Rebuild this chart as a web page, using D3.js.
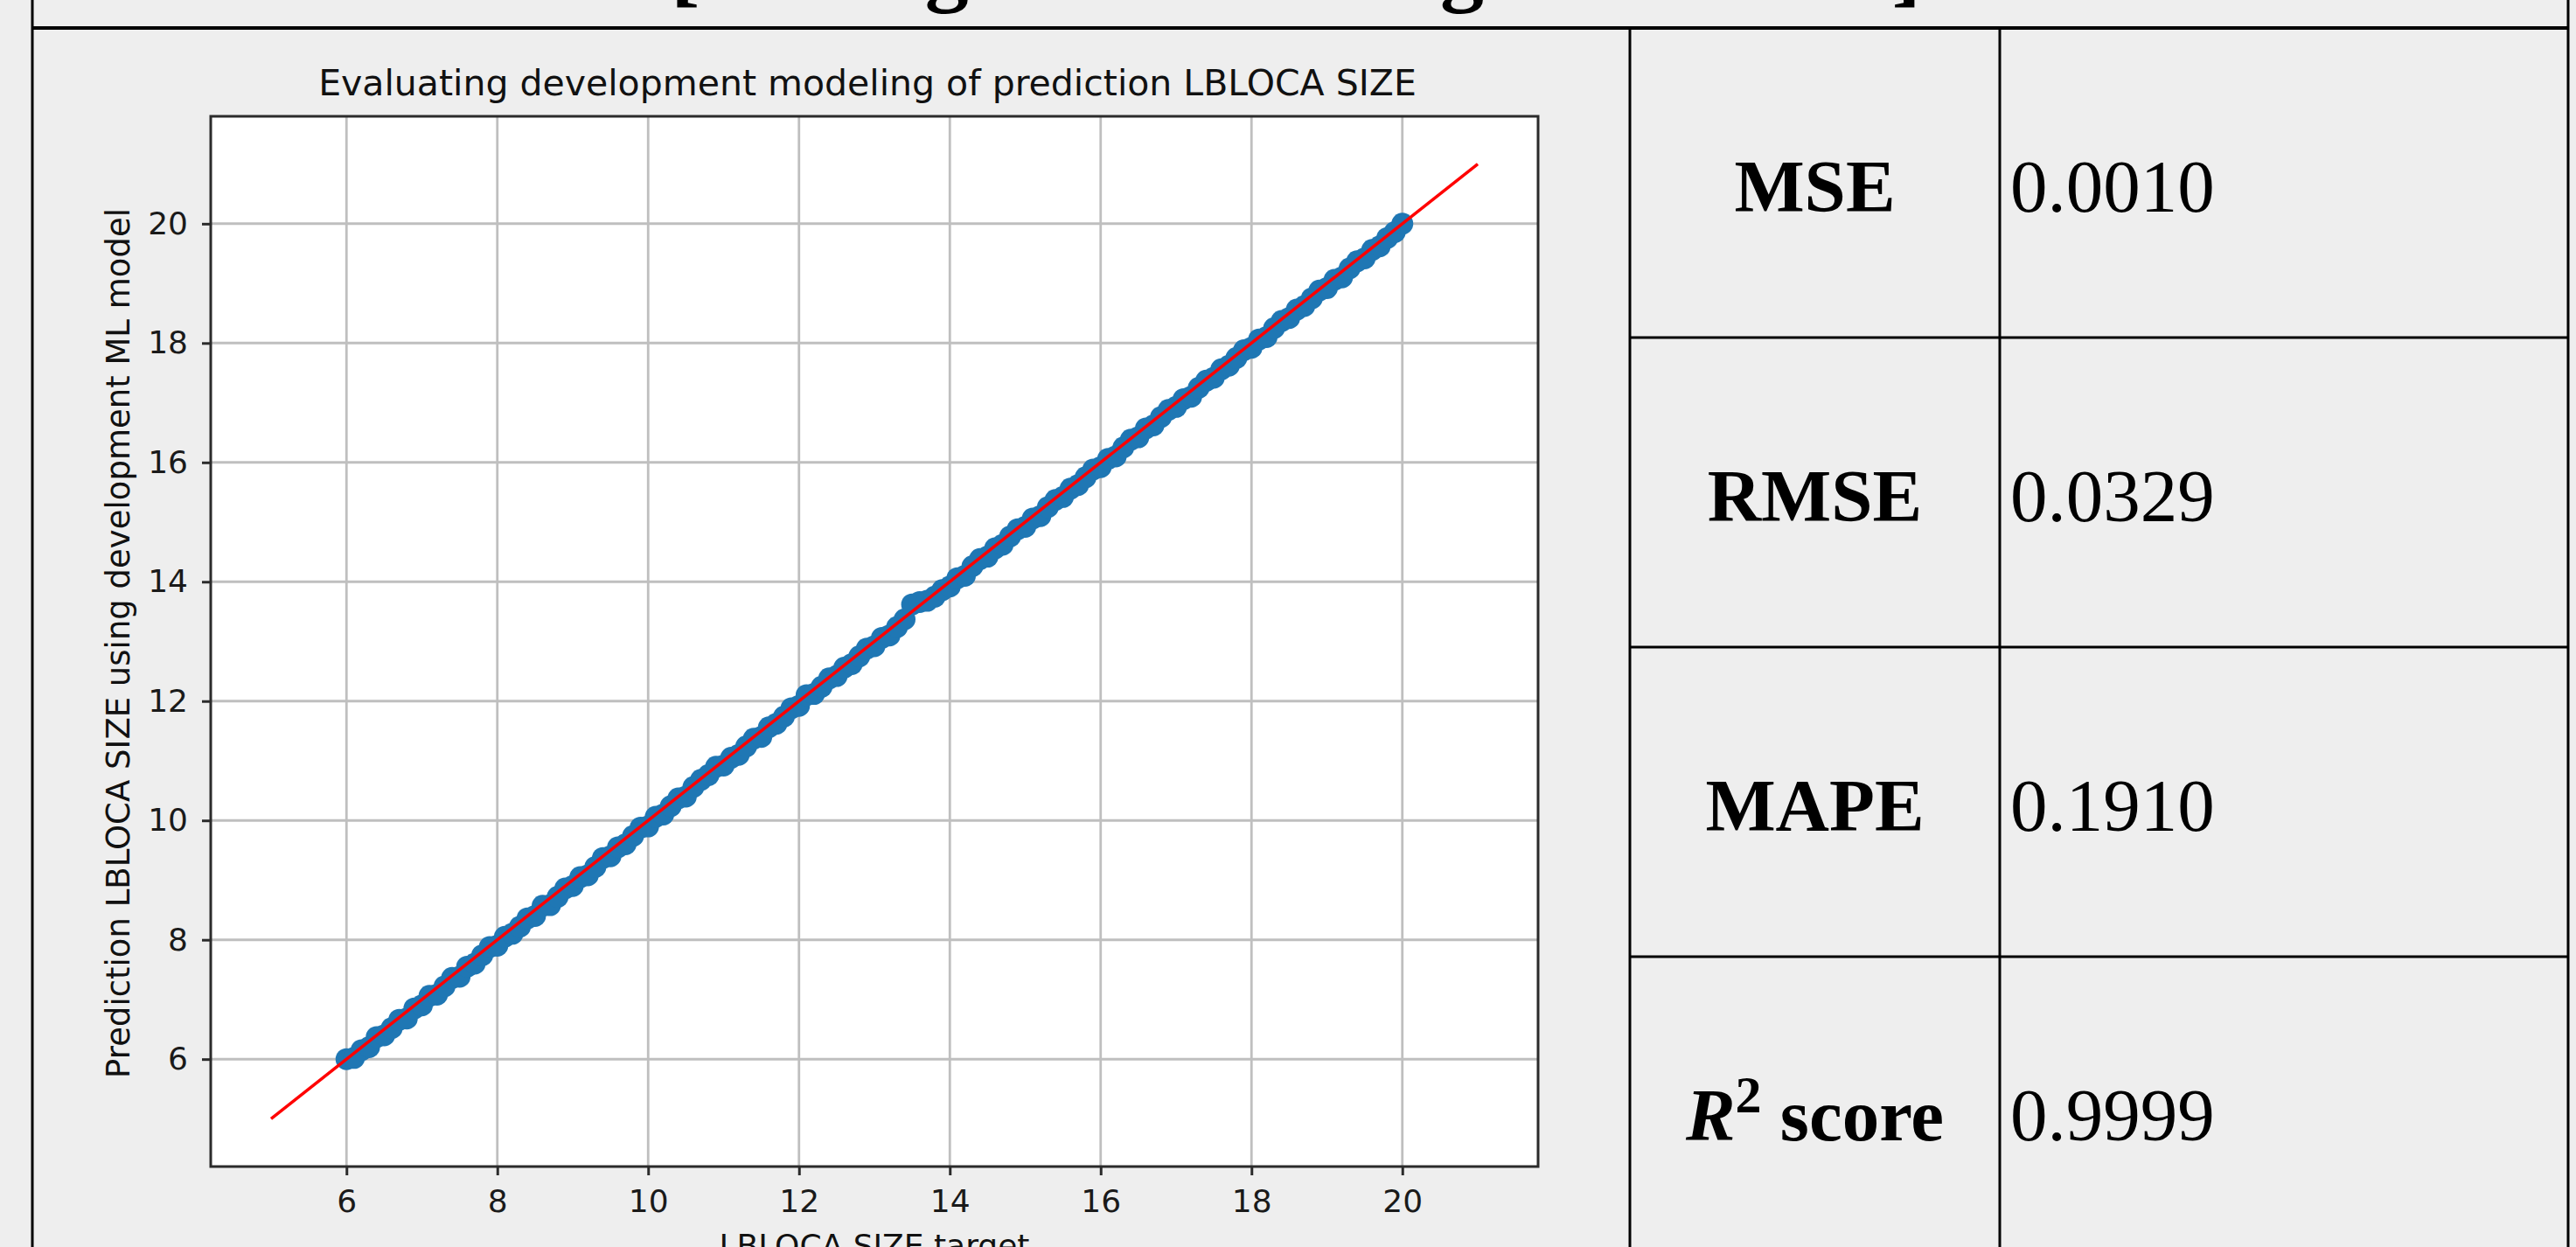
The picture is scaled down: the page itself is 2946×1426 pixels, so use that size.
<!DOCTYPE html>
<html>
<head>
<meta charset="utf-8">
<script src="https://cdn.jsdelivr.net/npm/d3@7"></script>
<style>
  html, body { margin: 0; padding: 0; background: #eeeeee; }
  svg { display: block; }
</style>
</head>
<body>
<svg id="chart" width="2946" height="1426"></svg>
<script>
// ---------------- data ----------------
const chartTitle = "Evaluating development modeling of prediction LBLOCA SIZE";
const xLabel = "LBLOCA SIZE target";
const yLabel = "Prediction LBLOCA SIZE using development ML model";
const headerText = "[Testing Results using ML model]";

const targets = [
  6.0, 6.1, 6.2, 6.3, 6.4, 6.5, 6.6, 6.7, 6.8, 6.9,
  7.0, 7.1, 7.2, 7.3, 7.4, 7.5, 7.6, 7.7, 7.8, 7.9,
  8.0, 8.1, 8.2, 8.3, 8.4, 8.5, 8.6, 8.7, 8.8, 8.9,
  9.0, 9.1, 9.2, 9.3, 9.4, 9.5, 9.6, 9.7, 9.8, 9.9,
  10.0, 10.1, 10.2, 10.3, 10.4, 10.5, 10.6, 10.7, 10.8, 10.9,
  11.0, 11.1, 11.2, 11.3, 11.4, 11.5, 11.6, 11.7, 11.8, 11.9,
  12.0, 12.1, 12.2, 12.3, 12.4, 12.5, 12.6, 12.7, 12.8, 12.9,
  13.0, 13.1, 13.2, 13.3, 13.4, 13.5, 13.6, 13.7, 13.8, 13.9,
  14.0, 14.1, 14.2, 14.3, 14.4, 14.5, 14.6, 14.7, 14.8, 14.9,
  15.0, 15.1, 15.2, 15.3, 15.4, 15.5, 15.6, 15.7, 15.8, 15.9,
  16.0, 16.1, 16.2, 16.3, 16.4, 16.5, 16.6, 16.7, 16.8, 16.9,
  17.0, 17.1, 17.2, 17.3, 17.4, 17.5, 17.6, 17.7, 17.8, 17.9,
  18.0, 18.1, 18.2, 18.3, 18.4, 18.5, 18.6, 18.7, 18.8, 18.9,
  19.0, 19.1, 19.2, 19.3, 19.4, 19.5, 19.6, 19.7, 19.8, 19.9,
  20.0
];
const predictions = [
  6.00, 6.02, 6.15, 6.20, 6.37, 6.40, 6.52, 6.66, 6.68, 6.85,
  6.90, 7.06, 7.08, 7.22, 7.36, 7.38, 7.55, 7.60, 7.74, 7.88,
  7.90, 8.05, 8.10, 8.22, 8.36, 8.40, 8.57, 8.58, 8.72, 8.86,
  8.90, 9.05, 9.08, 9.22, 9.37, 9.40, 9.55, 9.60, 9.74, 9.88,
  9.90, 10.06, 10.10, 10.24, 10.37, 10.40, 10.56, 10.68, 10.76, 10.90,
  10.92, 11.05, 11.10, 11.24, 11.37, 11.40, 11.56, 11.62, 11.74, 11.88,
  11.92, 12.10, 12.12, 12.24, 12.38, 12.42, 12.56, 12.62, 12.75, 12.88,
  12.92, 13.06, 13.10, 13.24, 13.37, 13.62, 13.66, 13.68, 13.75, 13.86,
  13.92, 14.06, 14.10, 14.26, 14.38, 14.42, 14.56, 14.62, 14.76, 14.88,
  14.92, 15.06, 15.10, 15.25, 15.37, 15.42, 15.56, 15.62, 15.75, 15.88,
  15.92, 16.06, 16.10, 16.25, 16.38, 16.42, 16.57, 16.62, 16.76, 16.88,
  16.93, 17.06, 17.10, 17.25, 17.37, 17.42, 17.56, 17.62, 17.75, 17.88,
  17.92, 18.06, 18.10, 18.25, 18.37, 18.42, 18.56, 18.62, 18.75, 18.88,
  18.92, 19.06, 19.10, 19.25, 19.37, 19.42, 19.56, 19.62, 19.76, 19.86,
  20.00
];
const idealLine = [5, 21];
const xTickValues = [6, 8, 10, 12, 14, 16, 18, 20];
const yTickValues = [6, 8, 10, 12, 14, 16, 18, 20];
const axisDomain = [4.2, 21.8];

const metricNames = ["MSE", "RMSE", "MAPE", "R2 score"];
const metricValues = ["0.0010", "0.0329", "0.1910", "0.9999"];

// ---------------- layout ----------------
const svg = d3.select("#chart");
const W = 2946, H = 1426;
const plot = { left: 241, right: 1759, top: 133, bottom: 1334 };
const frame = { left: 37, right: 2937, top: 32, col1: 1864, col2: 2287, rowH: 354 };
const sans = "'DejaVu Sans', sans-serif";
const serif = "'Liberation Serif', 'Times New Roman', serif";

svg.append("rect").attr("width", W).attr("height", H).attr("fill", "#eeeeee");

// ---------------- chart ----------------
const x = d3.scaleLinear().domain(axisDomain).range([plot.left, plot.right]);
const y = d3.scaleLinear().domain(axisDomain).range([plot.bottom, plot.top]);

svg.append("rect")
  .attr("x", plot.left).attr("y", plot.top)
  .attr("width", plot.right - plot.left).attr("height", plot.bottom - plot.top)
  .attr("fill", "#ffffff");

// grid
const grid = svg.append("g");
grid.selectAll("line.vx").data(xTickValues).join("line")
  .attr("x1", d => x(d)).attr("x2", d => x(d))
  .attr("y1", plot.top).attr("y2", plot.bottom)
  .attr("stroke", "#bfbfbf").attr("stroke-width", 2.8);
grid.selectAll("line.hy").data(yTickValues).join("line")
  .attr("y1", d => y(d)).attr("y2", d => y(d))
  .attr("x1", plot.left).attr("x2", plot.right)
  .attr("stroke", "#bfbfbf").attr("stroke-width", 3);

// points
const pts = targets.map((t, i) => ({ t, p: predictions[i] }));
svg.append("g").selectAll("circle").data(pts).join("circle")
  .attr("cx", d => x(d.t)).attr("cy", d => y(d.p))
  .attr("r", 12.5).attr("fill", "#1f77b4");

// ideal line
svg.append("line")
  .attr("x1", x(idealLine[0])).attr("y1", y(idealLine[0]))
  .attr("x2", x(idealLine[1])).attr("y2", y(idealLine[1]))
  .attr("stroke", "#ff0000").attr("stroke-width", 3.5);

// spines
svg.append("rect")
  .attr("x", plot.left).attr("y", plot.top)
  .attr("width", plot.right - plot.left).attr("height", plot.bottom - plot.top)
  .attr("fill", "none").attr("stroke", "#2b2b2b").attr("stroke-width", 3);

// axes
const xAxis = svg.append("g").attr("transform", `translate(0,${plot.bottom})`)
  .call(d3.axisBottom(x).tickValues(xTickValues).tickFormat(d3.format("d")).tickSize(10).tickPadding(16));
const yAxis = svg.append("g").attr("transform", `translate(${plot.left},0)`)
  .call(d3.axisLeft(y).tickValues(yTickValues).tickFormat(d3.format("d")).tickSize(10).tickPadding(16));
[xAxis, yAxis].forEach(a => {
  a.select(".domain").remove();
  a.selectAll(".tick line").attr("stroke", "#2b2b2b").attr("stroke-width", 3);
  a.selectAll(".tick text").attr("fill", "#1a1a1a")
    .style("font-family", sans).style("font-size", "36px");
});

// title and labels
svg.append("text").attr("x", 992).attr("y", 109).attr("text-anchor", "middle")
  .style("font-family", sans).style("font-size", "41px").attr("fill", "#111")
  .text(chartTitle);
svg.append("text").attr("x", 1000).attr("y", 1437).attr("text-anchor", "middle")
  .style("font-family", sans).style("font-size", "36px").attr("fill", "#111")
  .text(xLabel);
svg.append("text").attr("transform", `translate(148,${(plot.top + plot.bottom) / 2 + 2}) rotate(-90)`)
  .attr("text-anchor", "middle")
  .style("font-family", sans).style("font-size", "37px").attr("fill", "#111")
  .text(yLabel);

// ---------------- table ----------------
const rows = d3.scaleBand().domain(metricNames)
  .range([frame.top, frame.top + frame.rowH * metricNames.length]);

const lines = svg.append("g").attr("stroke", "#000");
// header text (clipped at top)
svg.append("text").attr("x", 767).attr("y", -5)
  .style("font-family", serif).style("font-size", "100px").style("font-weight", "bold")
  .attr("fill", "#000").text(headerText);

lines.append("line").attr("x1", frame.left).attr("x2", frame.right)
  .attr("y1", frame.top).attr("y2", frame.top).attr("stroke-width", 4);
lines.append("line").attr("x1", frame.left).attr("x2", frame.left)
  .attr("y1", 0).attr("y2", H).attr("stroke-width", 3);
lines.append("line").attr("x1", frame.right).attr("x2", frame.right)
  .attr("y1", 0).attr("y2", H).attr("stroke-width", 3);
[frame.col1, frame.col2].forEach(cx => {
  lines.append("line").attr("x1", cx).attr("x2", cx)
    .attr("y1", frame.top).attr("y2", H).attr("stroke-width", 3);
});
lines.selectAll("line.row").data(metricNames.slice(1)).join("line")
  .attr("x1", frame.col1).attr("x2", frame.right)
  .attr("y1", d => rows(d)).attr("y2", d => rows(d)).attr("stroke-width", 3);

const nameX = (frame.col1 + frame.col2) / 2;
metricNames.forEach((name, i) => {
  const base = rows(name) + 210;
  const t = svg.append("text").attr("x", nameX).attr("y", base)
    .attr("text-anchor", "middle")
    .style("font-family", serif).style("font-size", "85px").style("font-weight", "bold")
    .attr("fill", "#000");
  if (name === "R2 score") {
    t.append("tspan").style("font-style", "italic").text("R");
    t.append("tspan").attr("dy", -32).style("font-size", "60px").text("2");
    t.append("tspan").attr("dy", 32).text(" score");
  } else {
    t.text(name);
  }
  svg.append("text").attr("x", frame.col2 + 12).attr("y", base)
    .style("font-family", serif).style("font-size", "85px")
    .attr("fill", "#000").text(metricValues[i]);
});
</script>
</body>
</html>
